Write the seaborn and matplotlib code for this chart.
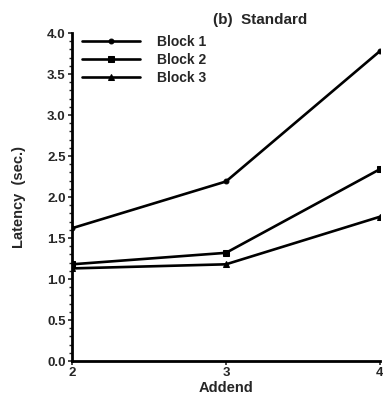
import matplotlib
matplotlib.use("Agg")
import matplotlib.pyplot as plt
from matplotlib.ticker import MultipleLocator
import seaborn as sns
import pandas as pd

addend = [2, 3, 4]
block1 = [1.62, 2.19, 3.78]
block2 = [1.18, 1.32, 2.34]
block3 = [1.13, 1.18, 1.76]
series_names = ["Block 1", "Block 2", "Block 3"]

sns.set_theme(style="ticks")
plt.rcParams["font.family"] = ["Liberation Sans", "DejaVu Sans"]
plt.rcParams["font.weight"] = "bold"

df = pd.DataFrame({
    "Addend": addend * 3,
    "Latency": block1 + block2 + block3,
    "Block": [n for n in series_names for _ in addend],
})

fig = plt.figure(figsize=(3.83, 4.08), dpi=100)
ax = fig.add_axes([0.188, 0.115, 0.804, 0.804])

markers = {"Block 1": "o", "Block 2": "s", "Block 3": "^"}
sizes = {"Block 1": 3.5, "Block 2": 4, "Block 3": 5}
for name in series_names:
    sub = df[df["Block"] == name]
    sns.lineplot(data=sub, x="Addend", y="Latency", ax=ax, color="black",
                 linewidth=1.9, marker=markers[name], markersize=sizes[name],
                 markeredgecolor="black", label=name)

ax.set_xlim(2, 4)
ax.set_ylim(0, 4.0)
ax.xaxis.set_major_locator(MultipleLocator(1))
ax.yaxis.set_major_locator(MultipleLocator(0.5))
ax.yaxis.set_minor_locator(MultipleLocator(0.1))
ax.set_yticklabels([f"{v:.1f}" for v in ax.get_yticks()])
ax.tick_params(axis="both", which="major", labelsize=9.5, width=1.2, length=3, pad=1.5)
ax.tick_params(axis="y", which="minor", width=1, length=2)
for t in ax.get_xticklabels() + ax.get_yticklabels():
    t.set_fontweight("bold")

for s in ["top", "right"]:
    ax.spines[s].set_visible(False)
for s in ["left", "bottom"]:
    ax.spines[s].set_linewidth(2)
    ax.spines[s].set_color("black")

ax.set_xlabel("Addend", fontsize=10.5, fontweight="bold", labelpad=1)
ax.set_ylabel("Latency  (sec.)", fontsize=10.5, fontweight="bold", labelpad=15)
fig.text(0.68, 0.95, "(b)  Standard", ha="center", va="center",
         fontsize=11, fontweight="bold")

leg = ax.legend(loc="upper left", bbox_to_anchor=(0.0, 1.025), frameon=False,
                handlelength=4.2, fontsize=10, labelspacing=0.3,
                handletextpad=1.2, borderaxespad=0.3)
for t in leg.get_texts():
    t.set_fontweight("bold")

fig.savefig("out.png", dpi=100)
